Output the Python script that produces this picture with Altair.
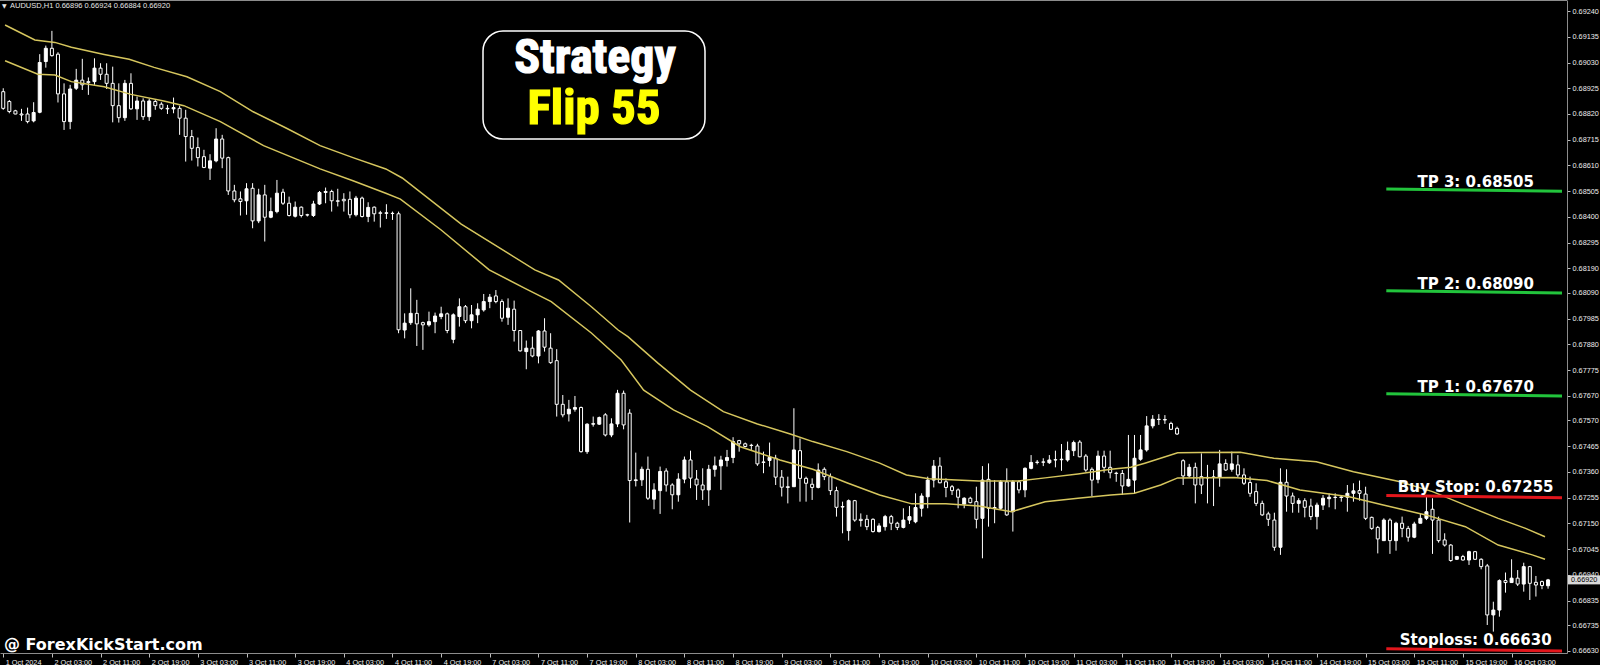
import json
import altair as alt
import pandas as pd

# ---------------------------------------------------------------------------
# AUDUSD H1 candles, 1 Oct 2024 19:00 .. 16 Oct 2024 09:00 (one entry per bar)
# ---------------------------------------------------------------------------
opens = [
    0.68911, 0.68871, 0.68833, 0.68820, 0.68820, 0.68792, 0.68827, 0.69034, 0.69088, 0.69064,
    0.68902, 0.68789, 0.68925, 0.68958, 0.68952, 0.68952, 0.69007, 0.68982, 0.68945, 0.68854,
    0.68805, 0.68945, 0.68841, 0.68873, 0.68809, 0.68871, 0.68860, 0.68843, 0.68841, 0.68843,
    0.68803, 0.68728, 0.68683, 0.68646, 0.68599, 0.68629, 0.68718, 0.68642, 0.68506, 0.68474,
    0.68466, 0.68517, 0.68384, 0.68490, 0.68399, 0.68422, 0.68501, 0.68456, 0.68403, 0.68440,
    0.68409, 0.68406, 0.68453, 0.68500, 0.68504, 0.68466, 0.68472, 0.68472, 0.68409, 0.68477,
    0.68402, 0.68440, 0.68417, 0.68415, 0.68415, 0.68413, 0.67939, 0.67969, 0.68007, 0.67969,
    0.67960, 0.67973, 0.67994, 0.68005, 0.67901, 0.67994, 0.68034, 0.67977, 0.68001, 0.68021,
    0.68055, 0.68078, 0.68055, 0.67991, 0.68024, 0.67937, 0.67851, 0.67865, 0.67833, 0.67935,
    0.67865, 0.67814, 0.67636, 0.67597, 0.67616, 0.67623, 0.67443, 0.67555, 0.67555, 0.67593,
    0.67511, 0.67556, 0.67681, 0.67600, 0.67325, 0.67328, 0.67371, 0.67249, 0.67284, 0.67364,
    0.67307, 0.67267, 0.67331, 0.67409, 0.67331, 0.67307, 0.67287, 0.67371, 0.67385, 0.67407,
    0.67419, 0.67488, 0.67475, 0.67469, 0.67466, 0.67401, 0.67407, 0.67416, 0.67339, 0.67300,
    0.67300, 0.67447, 0.67334, 0.67310, 0.67297, 0.67371, 0.67341, 0.67284, 0.67219, 0.67121,
    0.67243, 0.67167, 0.67167, 0.67167, 0.67117, 0.67137, 0.67178, 0.67151, 0.67134, 0.67164,
    0.67157, 0.67212, 0.67259, 0.67327, 0.67384, 0.67320, 0.67300, 0.67287, 0.67229, 0.67253,
    0.67239, 0.67171, 0.67330, 0.67212, 0.67212, 0.67320, 0.67198, 0.67320, 0.67287, 0.67375,
    0.67399, 0.67400, 0.67398, 0.67409, 0.67410, 0.67409, 0.67447, 0.67482, 0.67425, 0.67371,
    0.67330, 0.67425, 0.67379, 0.67355, 0.67354, 0.67303, 0.67327, 0.67412, 0.67450, 0.67548,
    0.67575, 0.67574, 0.67558, 0.67538, 0.67406, 0.67344, 0.67379, 0.67341, 0.67338, 0.67338,
    0.67338, 0.67395, 0.67371, 0.67389, 0.67348, 0.67317, 0.67280, 0.67232, 0.67189, 0.67164,
    0.67053, 0.67318, 0.67262, 0.67232, 0.67243, 0.67221, 0.67178, 0.67225, 0.67251, 0.67257,
    0.67256, 0.67257, 0.67273, 0.67284, 0.67270, 0.67175, 0.67134, 0.67080, 0.67164, 0.67080,
    0.67151, 0.67130, 0.67094, 0.67151, 0.67171, 0.67208, 0.67164, 0.67083, 0.67062, 0.67004,
    0.67015, 0.67001, 0.67035, 0.67004, 0.66977, 0.66777, 0.66797, 0.66917, 0.66909, 0.66927,
    0.66903, 0.66974, 0.66910, 0.66913, 0.66896,
]
highs = [
    0.68925, 0.68877, 0.68837, 0.68841, 0.68846, 0.68868, 0.69064, 0.69099, 0.69159, 0.69072,
    0.68945, 0.68939, 0.69004, 0.69045, 0.68969, 0.69047, 0.69027, 0.69027, 0.69013, 0.68945,
    0.68959, 0.68986, 0.68891, 0.68884, 0.68882, 0.68877, 0.68868, 0.68857, 0.68887, 0.68854,
    0.68837, 0.68755, 0.68724, 0.68674, 0.68656, 0.68762, 0.68735, 0.68646, 0.68531, 0.68504,
    0.68538, 0.68538, 0.68515, 0.68531, 0.68479, 0.68551, 0.68515, 0.68483, 0.68463, 0.68443,
    0.68413, 0.68466, 0.68506, 0.68520, 0.68511, 0.68515, 0.68497, 0.68504, 0.68486, 0.68483,
    0.68460, 0.68443, 0.68425, 0.68452, 0.68422, 0.68422, 0.68007, 0.68109, 0.68062, 0.67973,
    0.68014, 0.68010, 0.68034, 0.68010, 0.68007, 0.68068, 0.68041, 0.68041, 0.68048, 0.68086,
    0.68086, 0.68102, 0.68064, 0.68068, 0.68059, 0.67939, 0.67896, 0.67912, 0.67939, 0.67987,
    0.67926, 0.67861, 0.67674, 0.67654, 0.67670, 0.67627, 0.67559, 0.67586, 0.67586, 0.67600,
    0.67579, 0.67695, 0.67692, 0.67616, 0.67439, 0.67382, 0.67423, 0.67314, 0.67382, 0.67375,
    0.67314, 0.67355, 0.67423, 0.67447, 0.67368, 0.67375, 0.67389, 0.67423, 0.67426, 0.67450,
    0.67502, 0.67491, 0.67480, 0.67475, 0.67475, 0.67443, 0.67480, 0.67430, 0.67368, 0.67341,
    0.67620, 0.67497, 0.67341, 0.67334, 0.67395, 0.67379, 0.67354, 0.67300, 0.67239, 0.67248,
    0.67246, 0.67191, 0.67185, 0.67171, 0.67151, 0.67185, 0.67185, 0.67157, 0.67212, 0.67221,
    0.67273, 0.67273, 0.67341, 0.67409, 0.67420, 0.67334, 0.67307, 0.67293, 0.67257, 0.67259,
    0.67300, 0.67384, 0.67395, 0.67327, 0.67327, 0.67375, 0.67327, 0.67327, 0.67379, 0.67429,
    0.67409, 0.67416, 0.67429, 0.67447, 0.67474, 0.67484, 0.67488, 0.67490, 0.67433, 0.67379,
    0.67447, 0.67447, 0.67447, 0.67361, 0.67368, 0.67511, 0.67511, 0.67511, 0.67588, 0.67592,
    0.67596, 0.67592, 0.67565, 0.67545, 0.67412, 0.67393, 0.67398, 0.67436, 0.67389, 0.67368,
    0.67450, 0.67412, 0.67443, 0.67429, 0.67375, 0.67341, 0.67314, 0.67243, 0.67198, 0.67194,
    0.67375, 0.67371, 0.67276, 0.67253, 0.67253, 0.67251, 0.67235, 0.67266, 0.67273, 0.67273,
    0.67266, 0.67307, 0.67314, 0.67325, 0.67300, 0.67178, 0.67140, 0.67171, 0.67171, 0.67157,
    0.67178, 0.67140, 0.67157, 0.67189, 0.67259, 0.67253, 0.67178, 0.67110, 0.67066, 0.67018,
    0.67022, 0.67039, 0.67038, 0.67008, 0.66985, 0.66831, 0.66922, 0.66950, 0.67004, 0.66960,
    0.66990, 0.66977, 0.66936, 0.66917, 0.66924,
]
lows = [
    0.68837, 0.68823, 0.68819, 0.68792, 0.68782, 0.68786, 0.68823, 0.69009, 0.69054, 0.68867,
    0.68755, 0.68758, 0.68918, 0.68918, 0.68898, 0.68939, 0.68959, 0.68922, 0.68786, 0.68785,
    0.68792, 0.68837, 0.68796, 0.68796, 0.68792, 0.68837, 0.68837, 0.68820, 0.68823, 0.68735,
    0.68626, 0.68630, 0.68606, 0.68599, 0.68551, 0.68623, 0.68599, 0.68490, 0.68460, 0.68406,
    0.68409, 0.68354, 0.68375, 0.68300, 0.68395, 0.68415, 0.68449, 0.68402, 0.68398, 0.68398,
    0.68402, 0.68400, 0.68449, 0.68456, 0.68422, 0.68443, 0.68422, 0.68395, 0.68402, 0.68398,
    0.68379, 0.68381, 0.68357, 0.68392, 0.68388, 0.67926, 0.67905, 0.67960, 0.67874, 0.67858,
    0.67953, 0.67926, 0.67983, 0.67926, 0.67885, 0.67953, 0.67967, 0.67946, 0.67967, 0.68014,
    0.68028, 0.68048, 0.67973, 0.67960, 0.67892, 0.67851, 0.67779, 0.67828, 0.67803, 0.67851,
    0.67801, 0.67586, 0.67583, 0.67566, 0.67606, 0.67439, 0.67434, 0.67545, 0.67552, 0.67505,
    0.67502, 0.67543, 0.67534, 0.67154, 0.67301, 0.67303, 0.67246, 0.67208, 0.67189, 0.67280,
    0.67208, 0.67239, 0.67314, 0.67294, 0.67246, 0.67246, 0.67222, 0.67341, 0.67287, 0.67382,
    0.67396, 0.67443, 0.67461, 0.67450, 0.67385, 0.67355, 0.67382, 0.67307, 0.67260, 0.67232,
    0.67300, 0.67239, 0.67239, 0.67246, 0.67293, 0.67327, 0.67266, 0.67178, 0.67110, 0.67080,
    0.67157, 0.67137, 0.67123, 0.67113, 0.67113, 0.67121, 0.67123, 0.67123, 0.67130, 0.67148,
    0.67151, 0.67178, 0.67212, 0.67297, 0.67314, 0.67257, 0.67266, 0.67212, 0.67212, 0.67232,
    0.67130, 0.67008, 0.67137, 0.67151, 0.67205, 0.67181, 0.67117, 0.67273, 0.67257, 0.67371,
    0.67391, 0.67384, 0.67393, 0.67379, 0.67365, 0.67402, 0.67425, 0.67420, 0.67361, 0.67262,
    0.67314, 0.67357, 0.67334, 0.67320, 0.67266, 0.67300, 0.67273, 0.67406, 0.67443, 0.67538,
    0.67552, 0.67556, 0.67531, 0.67511, 0.67307, 0.67338, 0.67232, 0.67270, 0.67232, 0.67221,
    0.67300, 0.67365, 0.67361, 0.67338, 0.67307, 0.67259, 0.67221, 0.67181, 0.67140, 0.67039,
    0.67022, 0.67198, 0.67194, 0.67194, 0.67175, 0.67164, 0.67126, 0.67205, 0.67216, 0.67208,
    0.67239, 0.67198, 0.67239, 0.67243, 0.67164, 0.67124, 0.67028, 0.67080, 0.67026, 0.67039,
    0.67094, 0.67076, 0.67090, 0.67151, 0.67164, 0.67026, 0.67072, 0.67056, 0.66994, 0.67001,
    0.66999, 0.66981, 0.67001, 0.66963, 0.66736, 0.66709, 0.66770, 0.66868, 0.66909, 0.66895,
    0.66872, 0.66838, 0.66852, 0.66882, 0.66884,
]
closes = [
    0.68843, 0.68830, 0.68820, 0.68816, 0.68789, 0.68826, 0.69030, 0.69088, 0.69058, 0.68902,
    0.68789, 0.68922, 0.68958, 0.68939, 0.68948, 0.69007, 0.68982, 0.68945, 0.68854, 0.68805,
    0.68945, 0.68841, 0.68873, 0.68809, 0.68873, 0.68854, 0.68843, 0.68841, 0.68846, 0.68803,
    0.68728, 0.68680, 0.68642, 0.68602, 0.68629, 0.68718, 0.68640, 0.68506, 0.68470, 0.68463,
    0.68515, 0.68384, 0.68490, 0.68399, 0.68422, 0.68497, 0.68456, 0.68406, 0.68440, 0.68406,
    0.68408, 0.68453, 0.68500, 0.68504, 0.68466, 0.68464, 0.68466, 0.68409, 0.68477, 0.68402,
    0.68439, 0.68413, 0.68415, 0.68417, 0.68414, 0.67940, 0.67967, 0.68007, 0.67964, 0.67960,
    0.67973, 0.67996, 0.68005, 0.67937, 0.68001, 0.68034, 0.67977, 0.68001, 0.68024, 0.68055,
    0.68073, 0.68055, 0.67987, 0.68028, 0.67937, 0.67854, 0.67865, 0.67833, 0.67935, 0.67869,
    0.67806, 0.67636, 0.67593, 0.67616, 0.67623, 0.67443, 0.67555, 0.67557, 0.67582, 0.67511,
    0.67556, 0.67681, 0.67552, 0.67325, 0.67328, 0.67371, 0.67253, 0.67287, 0.67362, 0.67307,
    0.67267, 0.67331, 0.67409, 0.67335, 0.67307, 0.67287, 0.67371, 0.67385, 0.67409, 0.67419,
    0.67484, 0.67475, 0.67464, 0.67468, 0.67393, 0.67399, 0.67419, 0.67339, 0.67298, 0.67297,
    0.67450, 0.67334, 0.67314, 0.67297, 0.67368, 0.67341, 0.67284, 0.67216, 0.67217, 0.67243,
    0.67164, 0.67162, 0.67137, 0.67117, 0.67140, 0.67178, 0.67151, 0.67134, 0.67164, 0.67178,
    0.67215, 0.67262, 0.67327, 0.67384, 0.67316, 0.67297, 0.67284, 0.67257, 0.67253, 0.67235,
    0.67167, 0.67327, 0.67212, 0.67215, 0.67320, 0.67185, 0.67320, 0.67287, 0.67375, 0.67399,
    0.67400, 0.67401, 0.67409, 0.67410, 0.67412, 0.67447, 0.67480, 0.67422, 0.67368, 0.67327,
    0.67425, 0.67379, 0.67357, 0.67354, 0.67303, 0.67330, 0.67416, 0.67450, 0.67548, 0.67575,
    0.67574, 0.67572, 0.67534, 0.67515, 0.67344, 0.67379, 0.67307, 0.67307, 0.67336, 0.67340,
    0.67393, 0.67368, 0.67393, 0.67348, 0.67314, 0.67273, 0.67232, 0.67185, 0.67167, 0.67053,
    0.67318, 0.67262, 0.67232, 0.67243, 0.67216, 0.67178, 0.67225, 0.67253, 0.67257, 0.67256,
    0.67258, 0.67273, 0.67283, 0.67273, 0.67171, 0.67130, 0.67087, 0.67164, 0.67080, 0.67151,
    0.67130, 0.67094, 0.67148, 0.67171, 0.67198, 0.67164, 0.67080, 0.67062, 0.66999, 0.67015,
    0.67001, 0.67035, 0.67004, 0.66974, 0.66777, 0.66797, 0.66917, 0.66909, 0.66927, 0.66903,
    0.66974, 0.66906, 0.66899, 0.66897, 0.66920,
]

# Two 55-period moving averages (of highs and of lows): vertices as (bar, price)
upper_ma_bars = [0.3, 5.2, 8.5, 11.2, 16.6, 20.7, 24.8, 30.2, 35.7, 41.1,
                 46.5, 52.1, 57.5, 62.9, 65.6, 75.3, 87.4, 91.3, 96.7, 101.1,
                 102.7, 107.6, 113.0, 118.4, 124.0, 129.4, 133.1, 138.7, 144.1, 148.5,
                 152.2, 160.4, 166.9, 171.3, 176.7, 182.1, 185.4, 187.7, 193.1, 196.8,
                 203.4, 208.9, 215.9, 222.0, 229.5, 235.0, 240.4, 245.8, 250.3, 253.5]
upper_ma = [0.69183, 0.69122, 0.69112, 0.69092, 0.69063, 0.69043, 0.69010, 0.68972, 0.68911, 0.68829,
            0.68763, 0.68691, 0.68642, 0.68596, 0.68559, 0.68371, 0.68184, 0.68143, 0.68034, 0.67939,
            0.67912, 0.67805, 0.67694, 0.67606, 0.67556, 0.67515, 0.67484, 0.67443, 0.67396, 0.67348,
            0.67332, 0.67323, 0.67323, 0.67336, 0.67352, 0.67371, 0.67379, 0.67396, 0.67438, 0.67439,
            0.67440, 0.67416, 0.67402, 0.67361, 0.67321, 0.67280, 0.67225, 0.67171, 0.67130, 0.67096]
lower_ma_bars = [0.3, 5.7, 8.5, 11.2, 16.6, 21.0, 26.4, 29.7, 35.7, 42.8,
                 48.2, 52.1, 57.5, 62.9, 65.3, 72.0, 79.9, 85.7, 90.1, 96.7,
                 101.6, 105.3, 110.2, 115.8, 121.2, 127.7, 133.1, 138.7, 144.1, 149.4,
                 155.0, 160.4, 165.8, 171.3, 176.7, 182.1, 186.0, 190.3, 193.1, 202.4,
                 207.8, 213.2, 221.3, 226.9, 233.9, 240.4, 245.8, 251.4, 253.5]
lower_ma = [0.69037, 0.68982, 0.68979, 0.68952, 0.68931, 0.68900, 0.68873, 0.68854, 0.68789, 0.68691,
            0.68636, 0.68596, 0.68548, 0.68497, 0.68473, 0.68347, 0.68184, 0.68110, 0.68055, 0.67927,
            0.67817, 0.67694, 0.67613, 0.67545, 0.67463, 0.67409, 0.67371, 0.67316, 0.67266, 0.67230,
            0.67230, 0.67221, 0.67198, 0.67239, 0.67253, 0.67266, 0.67273, 0.67307, 0.67336, 0.67338,
            0.67325, 0.67287, 0.67259, 0.67225, 0.67185, 0.67137, 0.67062, 0.67022, 0.67004]

# Trade levels
tp_names = ["TP 3", "TP 2", "TP 1"]
tp_prices = [0.68505, 0.68090, 0.67670]
risk_names = ["Buy Stop", "Stoploss"]
risk_prices = [0.67255, 0.66630]

# Axis labels
price_ticks = [0.69240, 0.69135, 0.69030, 0.68925, 0.68820, 0.68715, 0.68610, 0.68505,
               0.68400, 0.68295, 0.68190, 0.68090, 0.67985, 0.67880, 0.67775, 0.67670,
               0.67570, 0.67465, 0.67360, 0.67255, 0.67150, 0.67045, 0.66940, 0.66835,
               0.66735, 0.66630]
time_label_bars = [0, 8, 16, 24, 32, 40, 48, 56, 64, 72, 80, 88, 96, 104, 112, 120,
                   128, 136, 144, 152, 160, 168, 176, 184, 192, 200, 208, 216, 224, 232, 240, 248]
time_labels = ["1 Oct 2024", "2 Oct 03:00", "2 Oct 11:00", "2 Oct 19:00", "3 Oct 03:00",
               "3 Oct 11:00", "3 Oct 19:00", "4 Oct 03:00", "4 Oct 11:00", "4 Oct 19:00",
               "7 Oct 03:00", "7 Oct 11:00", "7 Oct 19:00", "8 Oct 03:00", "8 Oct 11:00",
               "8 Oct 19:00", "9 Oct 03:00", "9 Oct 11:00", "9 Oct 19:00", "10 Oct 03:00",
               "10 Oct 11:00", "10 Oct 19:00", "11 Oct 03:00", "11 Oct 11:00", "11 Oct 19:00",
               "14 Oct 03:00", "14 Oct 11:00", "14 Oct 19:00", "15 Oct 03:00", "15 Oct 11:00",
               "15 Oct 19:00", "16 Oct 03:00"]

# ---------------------------------------------------------------------------
W, H = 1567, 653
X_DOMAIN = [0.289, 256.29]
Y_DOMAIN = [0.666218, 0.692849]
LEVEL_START_BAR = 227.4
LABEL_BAR = 242.1
LINE_RISE = 0.00009

AXIS_GREY = "#8c8c8c"
LABEL_GREY = "#ececec"
MA_COLOR = "#d6c65e"
GREEN = "#22c43c"
RED = "#e3161c"

xs = alt.Scale(domain=X_DOMAIN, nice=False, zero=False)
ys = alt.Scale(domain=Y_DOMAIN, nice=False, zero=False)

label_expr = f"{json.dumps(time_labels)}[indexof({json.dumps(time_label_bars)}, datum.value)]"
x_axis = alt.Axis(values=time_label_bars, labelExpr=label_expr, orient="bottom", grid=False,
                  title=None, domainColor=AXIS_GREY, domainWidth=1, tickColor="#bdbdbd",
                  tickSize=4, labelColor=LABEL_GREY, labelFont="Liberation Sans", labelFontSize=7.3,
                  labelAlign="left", labelOffset=2, labelPadding=1, labelFlush=False,
                  labelOverlap=False, labelBound=False)
y_axis = alt.Axis(values=price_ticks, format=".5f", orient="right", grid=False, title=None,
                  domainColor=AXIS_GREY, domainWidth=1, tickColor="#bdbdbd", tickSize=3,
                  labelColor=LABEL_GREY, labelFont="Liberation Sans", labelFontSize=7.3,
                  labelPadding=2, labelFlush=False, labelOverlap=False)

candles = pd.DataFrame({"bar": range(len(opens)), "open": opens, "high": highs,
                        "low": lows, "close": closes})
candles["top"] = candles[["open", "close"]].max(axis=1)
candles["bottom"] = candles[["open", "close"]].min(axis=1)
candles["bull"] = candles["close"] > candles["open"]

base = alt.Chart(candles)
wicks = base.mark_rule(color="white", strokeWidth=1).encode(
    x=alt.X("bar:Q", scale=xs, axis=x_axis),
    y=alt.Y("low:Q", scale=ys, axis=y_axis),
    y2="high:Q",
)
bodies = base.mark_bar(size=3, stroke="white", strokeWidth=1).encode(
    x=alt.X("bar:Q", scale=xs, axis=x_axis),
    y=alt.Y("bottom:Q", scale=ys, axis=y_axis),
    y2="top:Q",
    fill=alt.condition("datum.bull", alt.value("white"), alt.value("black")),
)

ma_up = alt.Chart(pd.DataFrame({"bar": upper_ma_bars, "ma": upper_ma})).mark_line(
    color=MA_COLOR, strokeWidth=1.5).encode(
    x=alt.X("bar:Q", scale=xs, axis=x_axis), y=alt.Y("ma:Q", scale=ys, axis=y_axis))
ma_dn = alt.Chart(pd.DataFrame({"bar": lower_ma_bars, "ma": lower_ma})).mark_line(
    color=MA_COLOR, strokeWidth=1.5).encode(
    x=alt.X("bar:Q", scale=xs, axis=x_axis), y=alt.Y("ma:Q", scale=ys, axis=y_axis))


def level_layers(names, prices, color, dy):
    df = pd.DataFrame({"name": names, "price": prices})
    df["start"] = df["price"] + LINE_RISE
    df["label"] = [f"{n}: {p:.5f}" for n, p in zip(names, prices)]
    df["x0"] = LEVEL_START_BAR
    df["x1"] = X_DOMAIN[1]
    df["xl"] = LABEL_BAR
    c = alt.Chart(df)
    line = c.mark_rule(color=color, strokeWidth=3).encode(
        x=alt.X("x0:Q", scale=xs, axis=x_axis), x2="x1:Q",
        y=alt.Y("start:Q", scale=ys, axis=y_axis), y2="price:Q")
    text = c.mark_text(color="white", font="DejaVu Sans", fontWeight="bold", fontSize=15,
                       align="center", baseline="alphabetic", dy=dy).encode(
        x=alt.X("xl:Q", scale=xs, axis=x_axis),
        y=alt.Y("price:Q", scale=ys, axis=y_axis), text="label:N")
    return [line, text]


tp_layers = level_layers(tp_names, tp_prices, GREEN, -4)
risk_layers = level_layers(risk_names, risk_prices, RED, -6)

# Current price marker on the price axis
last = pd.DataFrame({"price": [closes[-1]], "label": [f"{closes[-1]:.5f}"]})
price_box = alt.Chart(last).mark_tick(color="#d9d9d9", orient="horizontal", size=32,
                                      thickness=9, opacity=1).encode(
    x=alt.value(1584), y=alt.Y("price:Q", scale=ys, axis=y_axis))
price_txt = alt.Chart(last).mark_text(color="black", font="Liberation Sans", fontSize=7.3,
                                      align="left", baseline="middle").encode(
    x=alt.value(1571), y=alt.Y("price:Q", scale=ys, axis=y_axis), text="label:N")

# Frame line along the top of the chart window
top_line = alt.Chart(pd.DataFrame({"k": [0]})).mark_rule(color=AXIS_GREY, strokeWidth=1).encode(
    x=alt.value(0), x2=alt.value(W), y=alt.value(0.5))

# Symbol header (last bar's OHLC)
header = (f"AUDUSD,H1  {opens[-1]:.5f} {highs[-1]:.5f} {lows[-1]:.5f} {closes[-1]:.5f}")
hdr = alt.Chart(pd.DataFrame({"t": [header]})).mark_text(
    color="#e6e6e6", font="Liberation Sans", fontSize=7.5, align="left", baseline="middle").encode(
    x=alt.value(10), y=alt.value(6), text="t:N")
hdr_arrow = alt.Chart(pd.DataFrame({"t": ["▼"]})).mark_text(
    color="#e6e6e6", font="DejaVu Sans", fontSize=6, align="left", baseline="middle").encode(
    x=alt.value(2), y=alt.value(6), text="t:N")

# Title badge
badge = alt.Chart(pd.DataFrame({"k": [0]})).mark_rect(
    fill="black", stroke="white", strokeWidth=1.5, cornerRadius=20).encode(
    x=alt.value(483), x2=alt.value(705), y=alt.value(31), y2=alt.value(139))
TITLE_FONT = "Liberation Sans Narrow, Roboto Condensed, Liberation Sans"
title1 = alt.Chart(pd.DataFrame({"t": ["Strategy"]})).mark_text(
    color="white", stroke="white", strokeWidth=1.2, font=TITLE_FONT, fontWeight="bold",
    fontSize=48, align="center", baseline="alphabetic").encode(
    x=alt.value(595), y=alt.value(73), text="t:N")
title2 = alt.Chart(pd.DataFrame({"t": ["Flip 55"]})).mark_text(
    color="#ffff00", stroke="#ffff00", strokeWidth=1.2, font=TITLE_FONT, fontWeight="bold",
    fontSize=49, align="center", baseline="alphabetic").encode(
    x=alt.value(594), y=alt.value(124), text="t:N")

watermark = alt.Chart(pd.DataFrame({"t": ["@ ForexKickStart.com"]})).mark_text(
    color="white", font="DejaVu Sans", fontWeight="bold", fontSize=16, align="left",
    baseline="alphabetic").encode(x=alt.value(4), y=alt.value(650), text="t:N")

chart = alt.layer(
    wicks, bodies, ma_up, ma_dn, *tp_layers, *risk_layers, price_box, price_txt,
    top_line, hdr_arrow, hdr, badge, title1, title2, watermark,
).properties(
    width=W, height=H, background="black",
    padding={"left": 0, "top": 0, "right": 33, "bottom": 12},
    autosize=alt.AutoSizeParams(type="none"),
).configure_view(stroke=None)

chart.save("out.html", embed_options={"renderer": "svg", "actions": False})
